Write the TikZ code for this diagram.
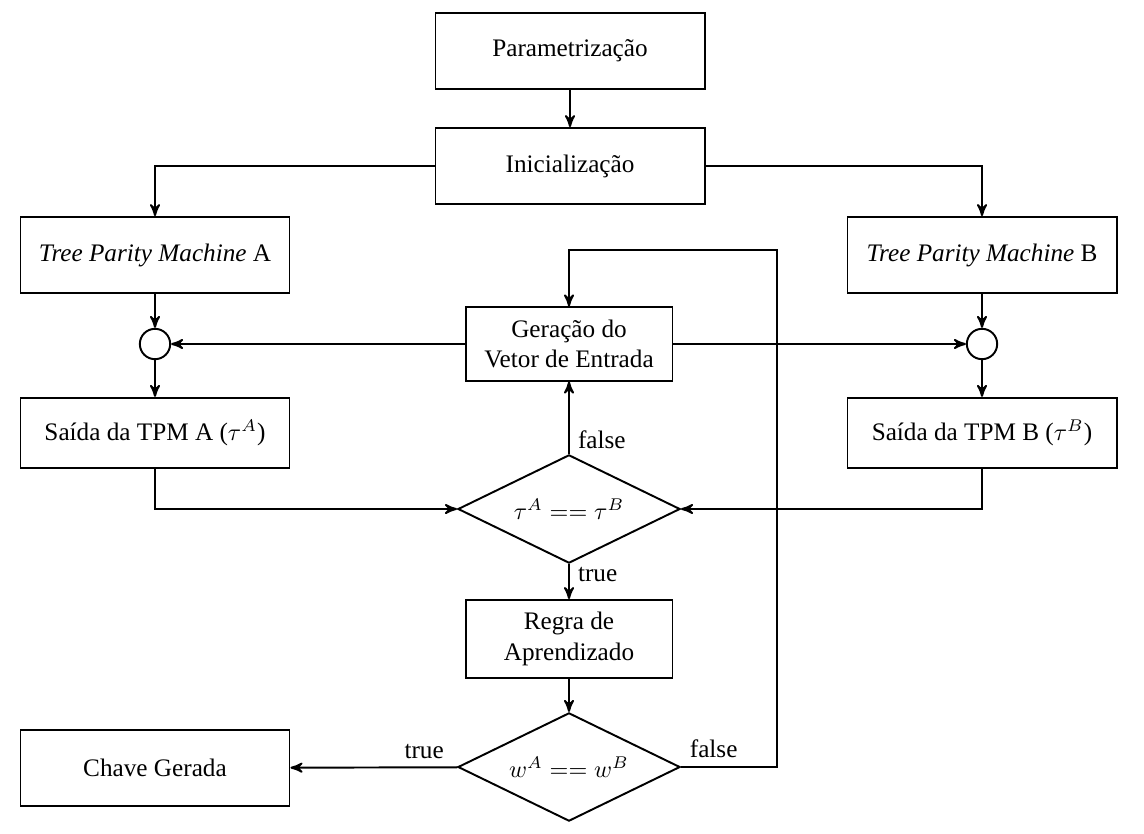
\documentclass[tikz,border=0pt]{standalone}
\usepackage{fontspec}
\setmainfont{Liberation Serif}
\usepackage{amsmath}
\usepackage{tikz}
\usetikzlibrary{arrows}
\usetikzlibrary{shapes.geometric}
\tikzset{caixa/.style={draw, thick, rectangle, minimum width=3.9cm, minimum height=1.1cm, align=center}}
\tikzset{losango/.style={draw, thick, diamond, aspect=2, inner sep=0pt, minimum width=3.22cm, minimum height=1.57cm}}
\tikzset{soma/.style={draw, thick, circle, inner sep=0pt, minimum size=0.44cm}}

\begin{document}
\begin{tikzpicture}[x=0.0145cm, y=-0.0145cm, >=stealth', thick, font=\fontsize{10.4}{12.6}\selectfont]
\useasboundingbox (0,0) rectangle (1144,833);
\node[caixa] (param) at (570,51) {Parametrização};
\node[caixa] (inic) at (570,166) {Inicialização};
\node[caixa] (tpmA) at (155,255) {\textit{Tree Parity Machine} A};
\node[caixa] (tpmB) at (982,255) {\textit{Tree Parity Machine} B};
\node[soma] (somaA) at (155,344) {};
\node[soma] (somaB) at (982,344) {};
\node[caixa, minimum width=3cm, minimum height=1.06cm] (vetor) at (569,344) {Geração do\\Vetor de Entrada};
\node[caixa, minimum height=1.02cm] (saidaA) at (155,433) {Saída da TPM A ($\tau^A$)};
\node[caixa, minimum height=1.02cm] (saidaB) at (982,433) {Saída da TPM B ($\tau^B$)};
\node[losango] (compT) at (569,509) {$\tau^A == \tau^B$};
\node[caixa, minimum width=3cm, minimum height=1.13cm] (regra) at (569,639) {Regra de\\Aprendizado};
\node[losango] (compW) at (569,767) {$w^A == w^B$};
\node[caixa] (chave) at (155,768) {Chave Gerada};
\coordinate (retorno) at (777,250);

\draw[->] (param) -- (inic);
\draw[->] (inic.west) -| (tpmA.north);
\draw[->] (inic.east) -| (tpmB.north);
\draw[->] (tpmA) -- (somaA);
\draw[->] (tpmB) -- (somaB);
\draw[->] (vetor) -- (somaA);
\draw[->] (vetor) -- (somaB);
\draw[->] (somaA) -- (saidaA);
\draw[->] (somaB) -- (saidaB);
\draw[->] (saidaA.south) |- (compT.west);
\draw[->] (saidaB.south) |- (compT.east);
\draw[->] (compT) -- node[pos=.2, right] {false} (vetor);
\draw[->] (compT) -- node[pos=.3, right] {true} (regra);
\draw[->] (regra) -- (compW);
\draw[->] (compW) -- node[pos=.2, above] {true} (chave);
\draw[->] (compW.east) -| node[pos=.17, above] {false} (retorno) -| (vetor.north);
\end{tikzpicture}
\end{document}
